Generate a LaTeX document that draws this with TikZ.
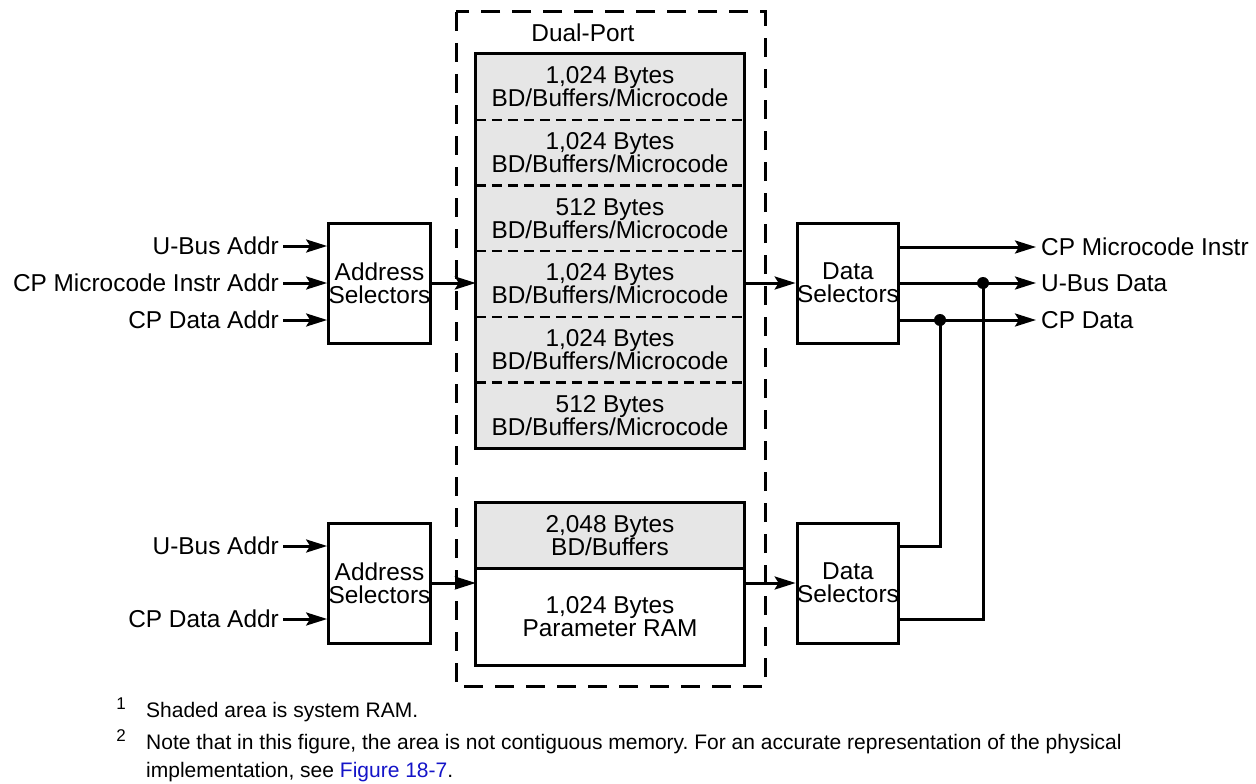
\documentclass[tikz,border=0pt]{standalone}
\usepackage{fontspec}
\setmainfont{Liberation Sans}
\usetikzlibrary{arrows.meta,calc}
\newcommand\labfont{\fontsize{24.4}{23}\selectfont}
\newcommand\fnfont{\fontsize{21}{29}\selectfont}
\newcommand\supfont{\fontsize{17}{17}\selectfont}
\definecolor{ramgray}{RGB}{230,230,230}
\definecolor{linkblue}{RGB}{20,20,200}
\frenchspacing
\begin{document}
\begin{tikzpicture}[x=1pt,y=-1pt,
  selbox/.style={draw, line width=3pt, minimum width=97pt, minimum height=120pt, inner sep=0pt, align=center, font=\labfont},
  memrow/.style={minimum width=268pt, minimum height=65.67pt, inner sep=0pt, align=center, font=\labfont},
  lbl/.style={inner sep=0pt, font=\labfont},
  wire/.style={line width=3pt},
  arr/.style={wire, -{Stealth[length=21pt,width=13pt,inset=4pt]}},
  divider/.style={line width=2.5pt, dash pattern=on 10pt off 6pt},
  outerdash/.style={line width=3pt, dash pattern=on 19pt off 12pt},
  junction/.style={circle, fill, inner sep=0pt, minimum size=12pt},
  fn/.style={inner sep=0pt, anchor=west, font=\fnfont},
  fnsup/.style={inner sep=0pt, font=\supfont}
]
\useasboundingbox (0,0) rectangle (1256,784);

% outer dual-port dashed frame
\draw[outerdash] (456,12) rectangle (765,686);
\node[lbl] (dp) at (583,33) {Dual-Port};

% top memory stack
\fill[ramgray] (476,54) rectangle (744,448);
\node[memrow] (r1) at (610,86.83)  {1,024 Bytes\\BD/Buffers/Microcode};
\node[memrow] (r2) at (610,152.5)  {1,024 Bytes\\BD/Buffers/Microcode};
\node[memrow] (r3) at (610,218.17) {512 Bytes\\BD/Buffers/Microcode};
\node[memrow] (r4) at (610,283.83) {1,024 Bytes\\BD/Buffers/Microcode};
\node[memrow] (r5) at (610,349.5)  {1,024 Bytes\\BD/Buffers/Microcode};
\node[memrow] (r6) at (610,415.17) {512 Bytes\\BD/Buffers/Microcode};
\foreach \r in {r1,r2,r3,r4,r5}
  \draw[divider] (\r.south west) -- (\r.south east);
\draw[wire] (r1.north west) rectangle (r6.south east);

% bottom memory
\node[memrow, fill=ramgray, minimum height=65pt] (bd) at (610,535.5) {2,048 Bytes\\BD/Buffers};
\node[memrow, minimum height=97pt] (pr) at (610,616.5) {1,024 Bytes\\Parameter RAM};
\draw[wire] (bd.north west) rectangle (pr.south east);
\draw[wire] (bd.south west) -- (bd.south east);

% selectors
\node[selbox] (a1) at (379.5,283) {Address\\Selectors};
\node[selbox] (a2) at (379.5,583) {Address\\Selectors};
\node[selbox] (d1) at (848,283) {Data\\Selectors};
\node[selbox] (d2) at (848,583) {Data\\Selectors};

% inputs top
\node[lbl, anchor=east] (i1) at (279,246) {U-Bus Addr};
\node[lbl, anchor=east] (i2) at (279,283) {CP Microcode Instr Addr};
\node[lbl, anchor=east] (i3) at (279,320) {CP Data Addr};
\foreach \i in {i1,i2,i3}
  \draw[arr] ([xshift=4pt]\i.east) -- (\i.east -| a1.west);
% inputs bottom
\node[lbl, anchor=east] (i4) at (279,546) {U-Bus Addr};
\node[lbl, anchor=east] (i5) at (279,619) {CP Data Addr};
\foreach \i in {i4,i5}
  \draw[arr] ([xshift=4pt]\i.east) -- (\i.east -| a2.west);

% address to memory, memory to data
\draw[arr] (a1.east) -- (a1.east -| r4.west);
\draw[arr] (r4.east |- d1.west) -- (d1.west);
\draw[arr] (a2.east) -- (a2.east -| pr.west);
\draw[arr] (pr.east |- d2.west) -- (d2.west);

% outputs
\node[lbl, anchor=west] (o1) at (1041,247) {CP Microcode Instr};
\node[lbl, anchor=west] (o2) at (1041,283) {U-Bus Data};
\node[lbl, anchor=west] (o3) at (1041,320) {CP Data};
\foreach \o in {o1,o2,o3}
  \draw[arr] (d1.east |- \o.west) -- ([xshift=-5pt]\o.west);

% feedback from lower data selectors
\coordinate (j1) at (940,320);
\coordinate (j2) at (983,283);
\coordinate (c1) at (940,546);
\coordinate (c2) at (983,619);
\draw[wire] (d2.east |- c1) -- (c1) -- (j1);
\draw[wire] (d2.east |- c2) -- (c2) -- (j2);
\node[junction] (dot1) at (j1) {};
\node[junction] (dot2) at (j2) {};

% footnotes
\node[fnsup] (s1) at (121,704) {1};
\node[fn] (f1) at (146,712) {Shaded area is system RAM.};
\node[fnsup] (s2) at (121,736) {2};
\node[fn] (f2) at (146,744) {Note that in this figure, the area is not contiguous memory. For an accurate representation of the physical};
\node[fn] (f3) at (146,772) {implementation, see \textcolor{linkblue}{Figure 18-7}.};
\end{tikzpicture}
\end{document}
